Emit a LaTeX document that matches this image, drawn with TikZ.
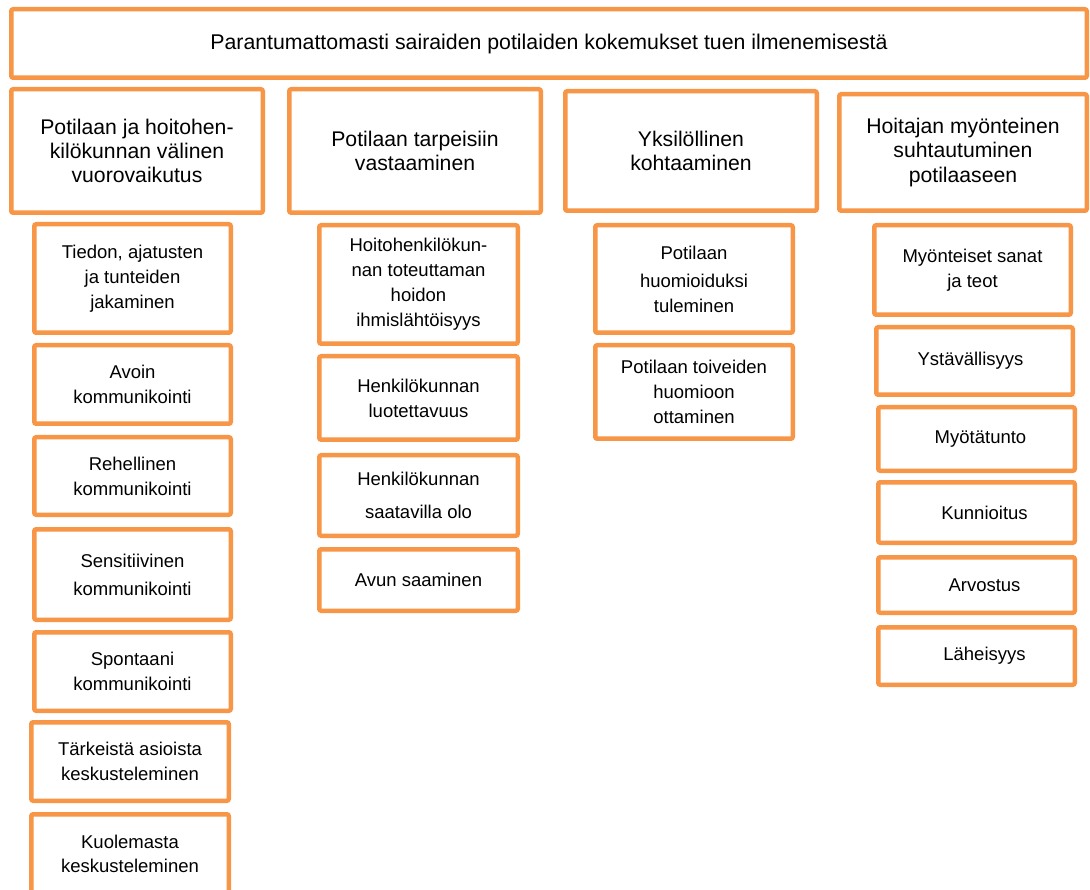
\documentclass[tikz,border=0pt]{standalone}
\usepackage{fontspec}
\setmainfont{Liberation Sans}
\definecolor{boxorange}{HTML}{F79646}
\newcommand\obox[7][]{%
  \node[box,#1,minimum width={(#5-#3-4.5)*1pt},minimum height={(#6-#4-4.5)*1pt}] (#2) at ({(#3+#5)/2},{(#4+#6)/2}) {#7};}
\begin{document}
\begin{tikzpicture}[x=1pt,y=-1pt,
  box/.style={draw=boxorange, line width=4.5pt, rounded corners=2pt, fill=white, inner sep=0pt, align=center},
  toptext/.style={font=\fontsize{21.3}{25}\selectfont},
  cattext/.style={font=\fontsize{21.2}{24.3}\selectfont},
  subtext/.style={font=\fontsize{18.5}{25}\selectfont}]
\useasboundingbox (0,0) rectangle (1090,890);
% title
\obox[toptext]{top}{9}{7}{1089}{80}{\raisebox{3pt}{Parantumattomasti sairaiden potilaiden kokemukset tuen ilmenemisestä}}
% categories
\obox[cattext]{cat1}{9}{87}{265}{215}{Potilaan ja hoitohen-\\kilökunnan välinen\\vuorovaikutus}
\obox[cattext]{cat2}{287}{87}{543}{215}{Potilaan tarpeisiin\\vastaaminen}
\obox[cattext]{cat3}{563}{89}{819}{213}{Yksilöllinen\\kohtaaminen}
\obox[cattext]{cat4}{837}{92}{1089}{213}{Hoitajan myönteinen\\suhtautuminen\\potilaaseen}
% column 1
\obox[subtext]{a1}{32}{222}{233}{335}{Tiedon, ajatusten\\ja tunteiden\\jakaminen}
\obox[subtext]{a2}{32}{343}{233}{426}{Avoin\\kommunikointi}
\obox[subtext]{a3}{32}{435}{233}{517}{Rehellinen\\kommunikointi}
\obox[subtext]{a4}{32}{527}{233}{622}{Sensitiivinen\\[3pt]kommunikointi}
\obox[subtext]{a5}{32}{630}{233}{713}{Spontaani\\kommunikointi}
\obox[subtext]{a6}{29}{720}{231}{803}{Tärkeistä asioista\\keskusteleminen}
\obox[subtext]{a7}{29}{812}{231}{896}{\raisebox{-1pt}{Kuolemasta}\\keskusteleminen}
% column 2
\obox[subtext]{b1}{317}{223}{520}{346}{Hoitohenkilökun-\\nan toteuttaman\\hoidon\\ihmislähtöisyys}
\obox[subtext]{b2}{317}{354}{520}{442}{Henkilökunnan\\luotettavuus}
\obox[subtext]{b3}{317}{453}{520}{538}{Henkilökunnan\\[8pt]saatavilla olo}
\obox[subtext]{b4}{317}{547}{520}{613}{Avun saaminen}
% column 3
\obox[subtext]{d1}{593}{223}{795}{335}{Potilaan\\[3pt]huomioiduksi\\tuleminen}
\obox[subtext]{d2}{593}{343}{795}{441}{Potilaan toiveiden\\huomioon\\ottaminen}
% column 4
\obox[subtext]{e1}{872}{223}{1073}{317}{Myönteiset sanat\\ja teot}
\obox[subtext]{e2}{874}{325}{1075}{397}{Ystävällisyys\hspace*{8pt}}
\obox[subtext]{e3}{876}{405}{1077}{473}{\hspace*{8pt}Myötätunto}
\obox[subtext]{e4}{876}{480}{1077}{545}{\hspace*{16pt}Kunnioitus}
\obox[subtext]{e5}{876}{555}{1077}{615}{\hspace*{16pt}\raisebox{-4pt}{Arvostus}}
\obox[subtext]{e6}{876}{625}{1077}{687}{\hspace*{16pt}\raisebox{-7pt}{Läheisyys}}
\end{tikzpicture}
\end{document}
